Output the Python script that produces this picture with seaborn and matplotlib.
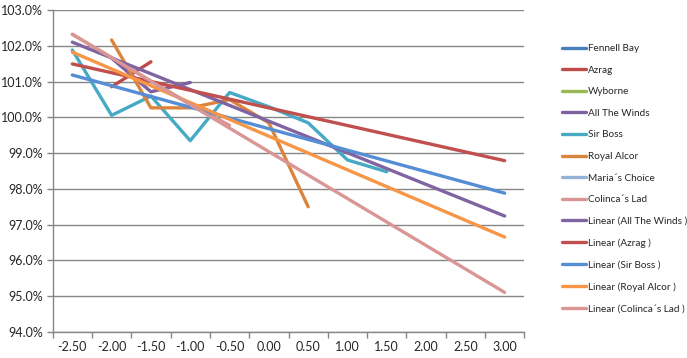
import matplotlib
matplotlib.use('Agg')
import matplotlib.pyplot as plt
import matplotlib.ticker as mticker
from matplotlib.lines import Line2D
import numpy as np
import pandas as pd
import seaborn as sns

# Category axis (Excel line chart style)
categories = ['-2.50', '-2.00', '-1.50', '-1.00', '-0.50', '0.00',
              '0.50', '1.00', '1.50', '2.00', '2.50', '3.00']

# Visible data per horse (NaN = no point drawn)
nan = np.nan
azrag = [nan, 100.86, 101.56, nan, nan, nan, nan, nan, nan, nan, nan, nan]
all_the_winds = [nan, 101.66, 100.72, 100.98, nan, nan, nan, nan, nan, nan, nan, nan]
sir_boss = [101.89, 100.06, 100.60, 99.35, 100.70, 100.30, 99.85, 98.81, 98.48, nan, nan, nan]
royal_alcor = [nan, 102.17, 100.27, 100.27, 100.50, 99.85, 97.50, nan, nan, nan, nan, nan]
colinca_lad = [102.33, 101.68, 101.02, 100.38, 99.78, nan, nan, nan, nan, nan, nan, nan]

# Linear trendlines: value at first (-2.50) and last (3.00) category
trend_names = ['Linear (All The Winds )', 'Linear (Azrag )', 'Linear (Sir Boss )',
               'Linear (Royal Alcor )', 'Linear (Colinca´s Lad )']
trend_start = [102.11, 101.50, 101.19, 101.83, 102.33]
trend_end = [97.24, 98.79, 97.88, 96.65, 95.10]

legend_names = ['Fennell Bay', 'Azrag', 'Wyborne', 'All The Winds', 'Sir Boss',
                'Royal Alcor', 'Maria´s Choice', 'Colinca´s Lad'] + trend_names
legend_colors = ['#4A7EBB', '#BE4B48', '#98B954', '#7D60A0', '#46AAC5',
                 '#DB843D', '#95B3D7', '#D99694',
                 '#8064A2', '#C0504D', '#558ED5', '#F79646', '#DA9694']

sns.set_style('white')
plt.rcParams['font.family'] = ['Lato', 'DejaVu Sans']

fig = plt.figure(figsize=(6.87, 3.58), dpi=100)
ax = fig.add_axes([0.0767, 0.0735, 0.6865, 0.8975])

# data series
series = {'Azrag': azrag, 'All The Winds': all_the_winds, 'Sir Boss': sir_boss,
          'Royal Alcor': royal_alcor, 'Colinca´s Lad': colinca_lad}
color_of = dict(zip(legend_names, legend_colors))
for name, vals in series.items():
    d = pd.DataFrame({'x': np.arange(len(categories)), 'y': vals}).dropna()
    sns.lineplot(data=d, x='x', y='y', ax=ax, color=color_of[name], lw=2.4,
                 legend=False, zorder=3)

# trendlines
for name, s, e in zip(trend_names, trend_start, trend_end):
    d = pd.DataFrame({'x': [0, len(categories) - 1], 'y': [s, e]})
    sns.lineplot(data=d, x='x', y='y', ax=ax, color=color_of[name], lw=2.4,
                 legend=False, zorder=4)

ax.set_xlim(-0.5, len(categories) - 0.5)
ax.set_ylim(94, 103)
ax.set_xlabel('')
ax.set_ylabel('')

# x: tick marks between categories, labels at centers
ax.set_xticks(np.arange(-0.5, len(categories), 1.0))
ax.set_xticklabels([])
ax.set_xticks(np.arange(len(categories)), minor=True)
ax.set_xticklabels(categories, minor=True, fontsize=9)
ax.tick_params(axis='x', which='major', length=4, width=1, color='#868686',
               direction='out', bottom=True)
ax.tick_params(axis='x', which='minor', length=0, pad=7)

ax.yaxis.set_major_locator(mticker.MultipleLocator(1))
ax.yaxis.set_major_formatter(mticker.FuncFormatter(lambda v, p: f'{v:.1f}%'))
ax.tick_params(axis='y', length=4, width=1, color='#868686', direction='out',
               left=True, labelsize=9, pad=3)

ax.grid(axis='y', color='#868686', lw=1)
ax.set_axisbelow(True)
for side in ['top', 'right']:
    ax.spines[side].set_visible(False)
for side in ['left', 'bottom']:
    ax.spines[side].set_color('#868686')
    ax.spines[side].set_linewidth(1)

handles = [Line2D([0], [0], color=c, lw=2.4) for c in legend_colors]
fig.legend(handles, legend_names, loc='upper left', bbox_to_anchor=(0.818, 0.877),
           frameon=False, fontsize=7.2, handlelength=2.4, handletextpad=0.2,
           labelspacing=1.26, borderaxespad=0, borderpad=0)

fig.savefig('out.png', dpi=100)
